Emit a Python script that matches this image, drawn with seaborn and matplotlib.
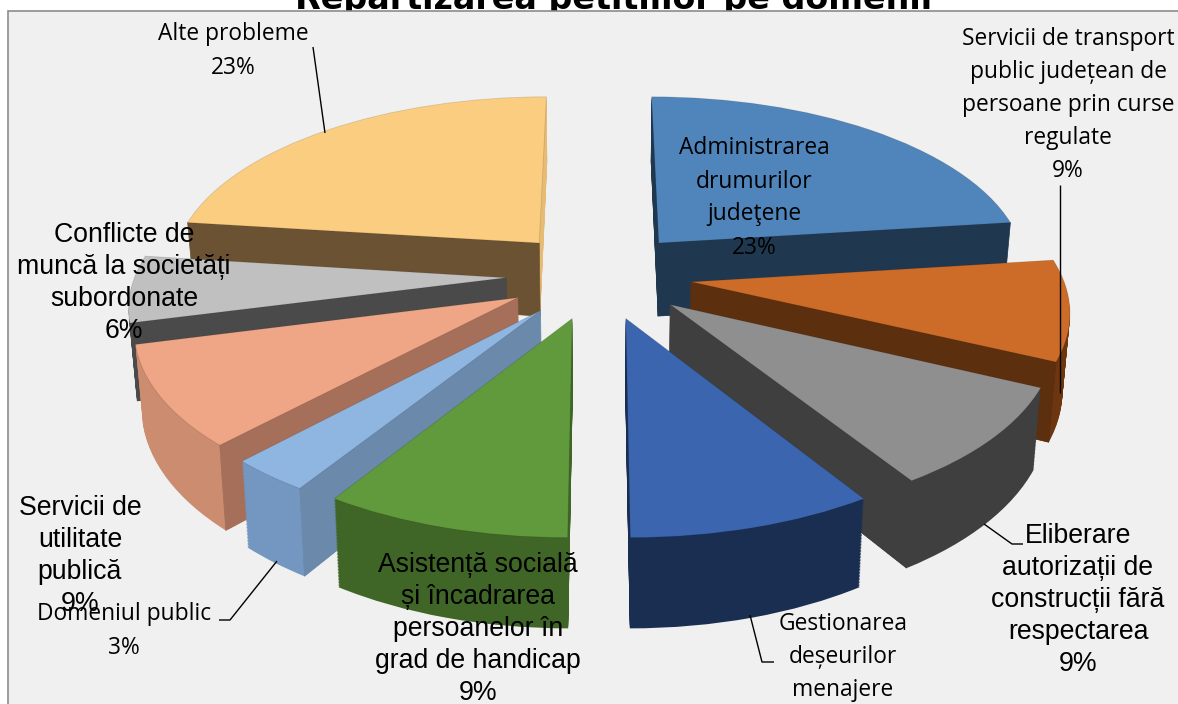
import numpy as np
import matplotlib
matplotlib.use("Agg")
import matplotlib.pyplot as plt
from matplotlib.patches import Rectangle
from matplotlib.transforms import Transform
import seaborn as sns

# ---- data ----
categories = [
    "Administrarea\ndrumurilor\njudeţene",
    "Servicii de transport\npublic județean de\npersoane prin curse\nregulate",
    "Eliberare\nautorizații de\nconstrucții fără\nrespectarea",
    "Gestionarea\ndeșeurilor\nmenajere",
    "Asistență socială\nși încadrarea\npersoanelor în\ngrad de handicap",
    "Domeniul public",
    "Servicii de\nutilitate\npublică",
    "Conflicte de\nmuncă la societăți\nsubordonate",
    "Alte probleme",
]
values = [23, 9, 9, 9, 9, 3, 9, 6, 23]
value_visible = [True, True, True, False, True, True, True, True, True]
title_text = "Repartizarea petițiilor pe domenii"

# ---- styles ----
top_colors = ["#5085bb", "#cc6c28", "#8f8f8f", "#3b65ae", "#609a3c",
              "#8fb6e0", "#eea686", "#c0c0c0", "#fbcd80"]
rim_colors = ["#20384f", "#6e3610", "#3f3f3f", "#1a2e52", "#3f6626",
              "#7497c2", "#cc8c70", "#4a4a4a", "#e6bb74"]
side_colors = ["#20384f", "#5c2f0e", "#3f3f3f", "#1a2e52", "#3f6626",
               "#6b89ab", "#a66f5a", "#4a4a4a", "#6b5233"]
draw_order = [8, 0, 7, 1, 6, 2, 5, 3, 4]   # back to front
explode = 0.25
X0, Y0, SX, SY, K, DEPTH, SHRINK = 599.0, 275.0, 371.0, 175.0, 0.14, 75.0, 0.016

SANS = "Liberation Sans"
HUM = "Open Sans"
label_style = [
    (754, 198, HUM, 16.4), (1068, 105, HUM, 16.4), (1078, 600, SANS, 19.2),
    (843, 657, HUM, 16.4), (478, 629, SANS, 19.2), (124, 631, HUM, 16.4),
    (80, 556, SANS, 19.2), (124, 283, SANS, 19.2), (233, 51, HUM, 16.4),
]
leaders = [
    ([313, 325], [47, 133]),
    ([1060, 1060], [185, 393]),
    ([984, 1012, 1023], [524, 544, 544]),
    ([750, 762, 774], [615, 662, 662]),
    ([277, 230, 219], [561, 620, 620]),
]


def project(xy, d):
    """Tilted, perspective view of the pie plane; d is the fraction of the slice height."""
    xy = np.asarray(xy, float)
    s = 1.0 / (1.0 + K * xy[:, 1])
    sx = X0 + SX * xy[:, 0] * s * (1 - SHRINK * d)
    sy = Y0 - SY * xy[:, 1] * s + DEPTH * s * d
    return np.column_stack([sx, sy])


class Perspective(Transform):
    input_dims = output_dims = 2
    is_affine = False
    has_inverse = False

    def __init__(self, d):
        super().__init__()
        self.d = d

    def transform_non_affine(self, values):
        return project(values, self.d)


sns.set_theme(style="white")
fig = plt.figure(figsize=(11.78, 7.04), dpi=100, facecolor="white")
ax = fig.add_axes([0, 0, 1, 1])
explodes = [explode] * len(values)
rank = {w: i for i, w in enumerate(draw_order)}


def pie_layer(colors, d, z, **kw):
    wedges, _ = ax.pie(values, explode=explodes, colors=colors, startangle=90,
                       counterclock=False, **kw)
    for i, w in enumerate(wedges):
        w.set_transform(Perspective(d) + ax.transData)
        w.set_zorder(rank[i] + z)
    return wedges


for d in np.linspace(1, 0.02, 60):
    pie_layer(rim_colors, d, 0.1, wedgeprops=dict(lw=0.6, edgecolor="none"))

top = pie_layer(top_colors, 0, 0.9, wedgeprops=dict(lw=0.6, edgecolor="#00000020"))

for i, w in enumerate(top):
    cx, cy = w.center
    for theta, show in ((w.theta1, np.cos(np.radians(w.theta1)) > 0.01),
                        (w.theta2, np.cos(np.radians(w.theta2)) < -0.01)):
        if not show:
            continue
        p = np.array([[cx, cy],
                      [cx + w.r * np.cos(np.radians(theta)), cy + w.r * np.sin(np.radians(theta))]])
        a, b = project(p, 0)
        c, e = project(p, 1)
        ax.fill([a[0], b[0], e[0], c[0]], [a[1], b[1], e[1], c[1]],
                color=side_colors[i], lw=0.5, zorder=rank[i] + 0.5)

ax.set_aspect("auto")
ax.set_xlim(0, 1178)
ax.set_ylim(704, 0)
ax.axis("off")

ax.add_patch(Rectangle((8, 11), 1300, 800, facecolor="#f0f0f0", edgecolor="#8c8c8c", lw=1.2, zorder=-1))
ax.text(614, 9, title_text, ha="center", va="baseline", fontsize=24, fontweight="bold",
        family="DejaVu Sans", color="black", zorder=-2, clip_on=False)

for xs, ys in leaders:
    ax.plot(xs, ys, color="black", lw=1, zorder=50, solid_capstyle="butt")

for name, val, vis, (x, y, fam, size) in zip(categories, values, value_visible, label_style):
    text = f"{name}\n{val}%" if vis else name
    ax.text(x, y, text, ha="center", va="center", family=fam, fontsize=size,
            color="black", linespacing=1.5 if fam == HUM else 1.3, zorder=60)

fig.savefig("out.png", dpi=100)
